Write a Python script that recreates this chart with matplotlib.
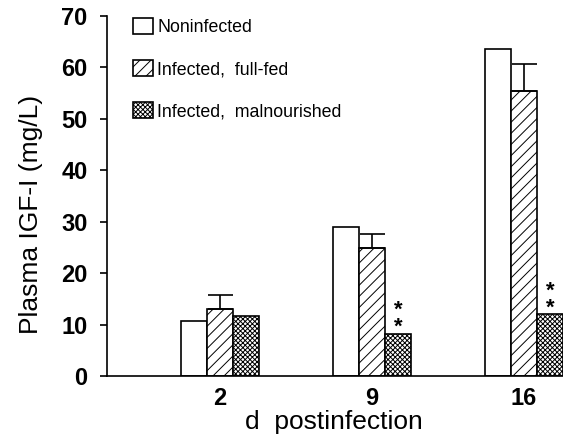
import matplotlib
matplotlib.use("Agg")
import matplotlib.pyplot as plt
from matplotlib.patches import Patch
import numpy as np

plt.rcParams['font.family'] = ['Liberation Sans', 'DejaVu Sans']
plt.rcParams['hatch.linewidth'] = 0.7

days = ["2", "9", "16"]
series = ["Noninfected", "Infected,  full-fed", "Infected,  malnourished"]
noninfected = [10.7, 29.0, 63.5]
infected_fullfed = [13.0, 24.8, 55.5]
infected_fullfed_err = [2.7, 2.9, 5.1]
infected_maln = [11.6, 8.2, 12.0]
maln_significant = [False, True, True]
yticks = [0, 10, 20, 30, 40, 50, 60, 70]

fig = plt.figure(figsize=(5.63, 4.41), dpi=100)
ax = fig.add_axes([107/563, 1-376/441, 1-107/563, (376-16)/441])

x = np.arange(len(days))
w = 0.171
lw = 1.2
ax.bar(x - w, noninfected, w, facecolor='white', edgecolor='black', linewidth=lw, zorder=2)
ax.bar(x, infected_fullfed, w, facecolor='white', edgecolor='black', linewidth=lw, hatch='///', zorder=2)
ax.errorbar(x, infected_fullfed, yerr=[np.zeros(3), infected_fullfed_err], fmt='none',
            ecolor='black', elinewidth=1.2, capsize=9, capthick=1.2, zorder=3)
ax.bar(x + w, infected_maln, w, facecolor='white', edgecolor='black', linewidth=lw, hatch='xxxxxxx', zorder=2)

for xi, v, s in zip(x + w, infected_maln, maln_significant):
    if s:
        ax.annotate('*\n*', (xi, v), xytext=(0, -3), textcoords='offset points', ha='center',
                    va='bottom', fontsize=16, fontweight='bold', linespacing=0.75)

ax.set_xlim(-0.743, 2.257)
ax.set_ylim(0, 70)
ax.set_yticks(yticks)
ax.set_yticklabels([str(t) for t in yticks], fontsize=17, fontweight='bold')
ax.set_xticks(x)
ax.set_xticklabels(days, fontsize=17, fontweight='bold')
ax.tick_params(axis='x', length=0, pad=8)
ax.tick_params(axis='y', length=5, width=1.2, pad=9)
for sp in ['top', 'right']:
    ax.spines[sp].set_visible(False)
for sp in ['left', 'bottom']:
    ax.spines[sp].set_linewidth(1.2)

ax.set_ylabel('Plasma IGF-I (mg/L)', fontsize=19)
ax.set_xlabel('d  postinfection', fontsize=19)
ax.yaxis.set_label_coords(-0.14, 0.45)
ax.xaxis.set_label_coords(0.497, -0.095)

handles = [Patch(facecolor='white', edgecolor='black', linewidth=lw),
           Patch(facecolor='white', edgecolor='black', linewidth=lw, hatch='///'),
           Patch(facecolor='white', edgecolor='black', linewidth=lw, hatch='xxxxxxx')]
ax.legend(handles, series, loc='upper left', bbox_to_anchor=(0.057, 0.995), frameon=False,
          fontsize=12.8, handlelength=1.12, handleheight=1.05, handletextpad=0.25,
          labelspacing=1.33, borderaxespad=0, borderpad=0)

fig.savefig('out.png', dpi=100)
